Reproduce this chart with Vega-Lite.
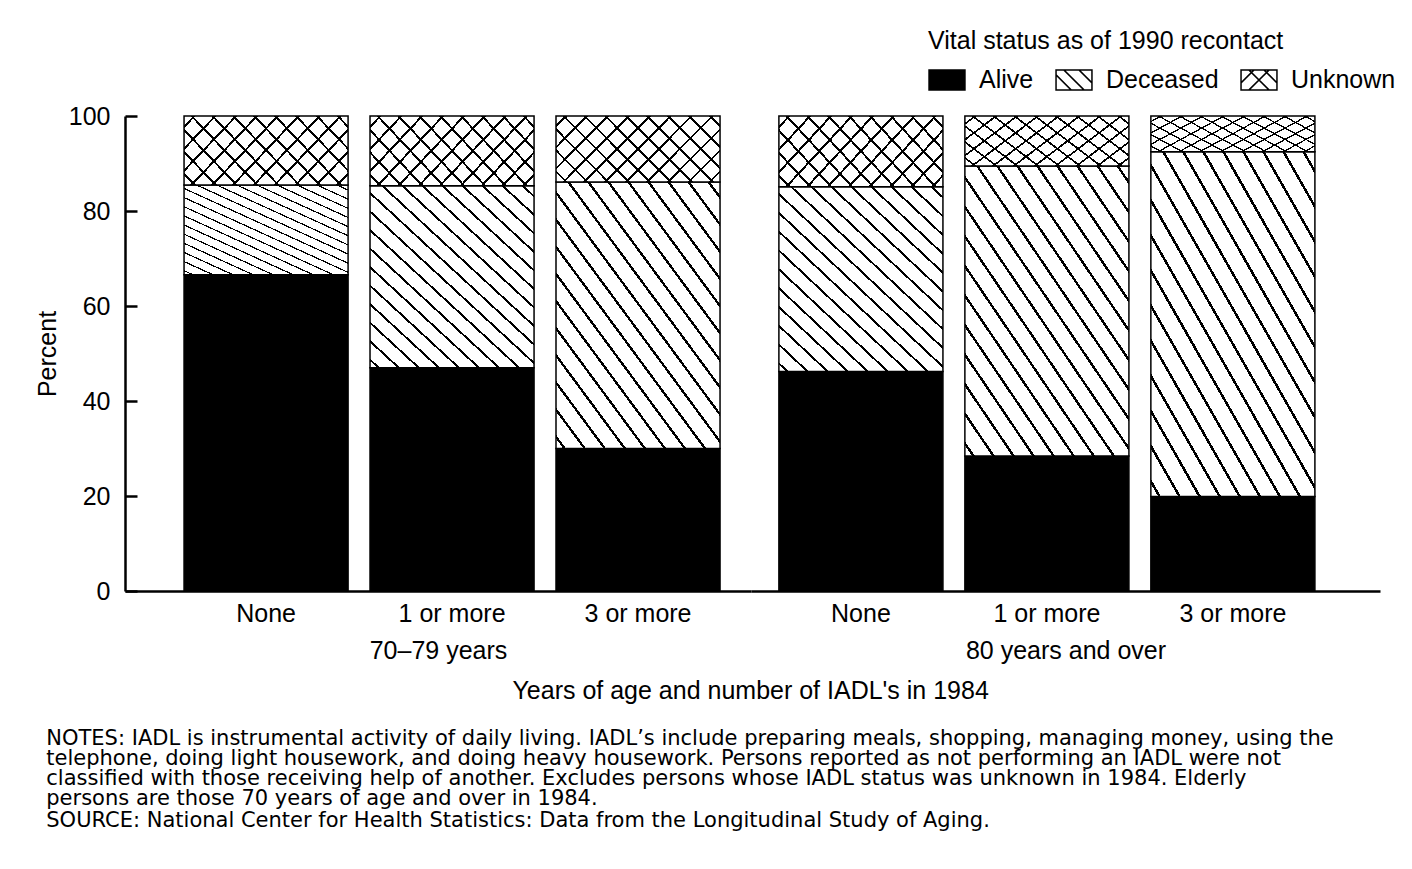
{
  "$schema": "https://vega.github.io/schema/vega-lite/v6.json",
  "background": "white",
  "padding": {"left": 35, "top": 29, "right": 5, "bottom": 5},
  "config": {
    "font": "Liberation Sans",
    "view": {"stroke": null},
    "axis": {"labelColor": "black", "titleColor": "black", "labelFont": "Liberation Sans", "titleFont": "Liberation Sans", "grid": false},
    "legend": {"labelColor": "black", "titleColor": "black", "labelFont": "Liberation Sans", "titleFont": "Liberation Sans"},
    "title": {"color": "black", "subtitleColor": "black", "font": "Liberation Sans", "subtitleFont": "Liberation Sans"}
  },
  "data": {"values": [
    {"age": "70–79 years", "iadl": "None", "status": "Alive", "value": 66.6},
    {"age": "70–79 years", "iadl": "None", "status": "Deceased", "value": 18.9},
    {"age": "70–79 years", "iadl": "None", "status": "Unknown", "value": 14.5},
    {"age": "70–79 years", "iadl": "1 or more", "status": "Alive", "value": 47.0},
    {"age": "70–79 years", "iadl": "1 or more", "status": "Deceased", "value": 38.3},
    {"age": "70–79 years", "iadl": "1 or more", "status": "Unknown", "value": 14.7},
    {"age": "70–79 years", "iadl": "3 or more", "status": "Alive", "value": 30.0},
    {"age": "70–79 years", "iadl": "3 or more", "status": "Deceased", "value": 56.1},
    {"age": "70–79 years", "iadl": "3 or more", "status": "Unknown", "value": 13.9},
    {"age": "80 years and over", "iadl": "None", "status": "Alive", "value": 46.2},
    {"age": "80 years and over", "iadl": "None", "status": "Deceased", "value": 38.9},
    {"age": "80 years and over", "iadl": "None", "status": "Unknown", "value": 14.9},
    {"age": "80 years and over", "iadl": "1 or more", "status": "Alive", "value": 28.4},
    {"age": "80 years and over", "iadl": "1 or more", "status": "Deceased", "value": 61.1},
    {"age": "80 years and over", "iadl": "1 or more", "status": "Unknown", "value": 10.5},
    {"age": "80 years and over", "iadl": "3 or more", "status": "Alive", "value": 19.9},
    {"age": "80 years and over", "iadl": "3 or more", "status": "Deceased", "value": 72.6},
    {"age": "80 years and over", "iadl": "3 or more", "status": "Unknown", "value": 7.5}
  ]},
  "title": {
    "text": [
      "NOTES: IADL is instrumental activity of daily living. IADL’s include preparing meals, shopping, managing money, using the",
      "telephone, doing light housework, and doing heavy housework. Persons reported as not performing an IADL were not",
      "classified with those receiving help of another. Excludes persons whose IADL status was unknown in 1984. Elderly",
      "persons are those 70 years of age and over in 1984."
    ],
    "subtitle": "SOURCE: National Center for Health Statistics: Data from the Longitudinal Study of Aging.",
    "orient": "bottom", "anchor": "start", "frame": "bounds",
    "font": "DejaVu Sans", "subtitleFont": "DejaVu Sans",
    "fontSize": 21, "fontWeight": "normal", "lineHeight": 20,
    "subtitleFontSize": 21, "subtitlePadding": 1,
    "offset": 24, "dx": 11
  },
  "vconcat": [{
    "title": {"text": "Years of age and number of IADL's in 1984", "orient": "bottom", "anchor": "middle", "frame": "bounds", "dx": 43, "fontSize": 25, "fontWeight": "normal", "offset": 16},
    "spacing": 0,
    "resolve": {"scale": {"x": "independent", "y": "independent"}},
    "hconcat": [
      {
        "width": 626, "height": 475,
        "transform": [
          {"filter": "datum.age === '70–79 years'"},
          {"stack": "value", "groupby": ["iadl"], "sort": [{"field": "status", "order": "ascending"}], "as": ["v0", "v1"]}
        ],
        "layer": [
          {
            "mark": {"type": "bar", "strokeWidth": 1.5, "stroke": "black"},
            "encoding": {
              "x": {"field": "iadl", "type": "nominal", "sort": ["None", "1 or more", "3 or more"],
                    "scale": {"paddingInner": 0.118, "paddingOuter": 0.242, "align": 0.656},
                    "axis": {"title": "70–79 years", "ticks": false, "labelAngle": 0, "labelFontSize": 25, "labelPadding": 10, "titleFontSize": 25, "titleFontWeight": "normal", "titlePadding": 12, "domainColor": "black", "domainWidth": 2.5}},
              "y": {"field": "v0", "type": "quantitative", "scale": {"domain": [0, 100], "nice": false},
                    "axis": {"title": "Percent", "values": [0, 20, 40, 60, 80, 100], "labelFontSize": 25, "labelPadding": 27, "tickSize": -12, "tickWidth": 2.5, "tickColor": "black", "domainColor": "black", "domainWidth": 2.5, "titleFontSize": 25, "titleFontWeight": "normal", "titlePadding": 8}},
              "y2": {"field": "v1"},
              "fill": {
                "condition": [
                  {"test": "datum.status === 'Alive'", "value": "black"},
                  {"test": "datum.status === 'Deceased'", "value": {"gradient": "linear", "x1": 0, "y1": 1, "x2": 0.9016, "y2": -0.082, "stops": [
                    {"offset": 0, "color": "white"},
                    {"offset": 0.02, "color": "white"}, {"offset": 0.02, "color": "black"}, {"offset": 0.028, "color": "black"}, {"offset": 0.028, "color": "white"},
                    {"offset": 0.0756, "color": "white"}, {"offset": 0.0756, "color": "black"}, {"offset": 0.0836, "color": "black"}, {"offset": 0.0836, "color": "white"},
                    {"offset": 0.1311, "color": "white"}, {"offset": 0.1311, "color": "black"}, {"offset": 0.1391, "color": "black"}, {"offset": 0.1391, "color": "white"},
                    {"offset": 0.1867, "color": "white"}, {"offset": 0.1867, "color": "black"}, {"offset": 0.1947, "color": "black"}, {"offset": 0.1947, "color": "white"},
                    {"offset": 0.2422, "color": "white"}, {"offset": 0.2422, "color": "black"}, {"offset": 0.2502, "color": "black"}, {"offset": 0.2502, "color": "white"},
                    {"offset": 0.2978, "color": "white"}, {"offset": 0.2978, "color": "black"}, {"offset": 0.3058, "color": "black"}, {"offset": 0.3058, "color": "white"},
                    {"offset": 0.3533, "color": "white"}, {"offset": 0.3533, "color": "black"}, {"offset": 0.3613, "color": "black"}, {"offset": 0.3613, "color": "white"},
                    {"offset": 0.4089, "color": "white"}, {"offset": 0.4089, "color": "black"}, {"offset": 0.4169, "color": "black"}, {"offset": 0.4169, "color": "white"},
                    {"offset": 0.4644, "color": "white"}, {"offset": 0.4644, "color": "black"}, {"offset": 0.4724, "color": "black"}, {"offset": 0.4724, "color": "white"},
                    {"offset": 0.52, "color": "white"}, {"offset": 0.52, "color": "black"}, {"offset": 0.528, "color": "black"}, {"offset": 0.528, "color": "white"},
                    {"offset": 0.5756, "color": "white"}, {"offset": 0.5756, "color": "black"}, {"offset": 0.5836, "color": "black"}, {"offset": 0.5836, "color": "white"},
                    {"offset": 0.6311, "color": "white"}, {"offset": 0.6311, "color": "black"}, {"offset": 0.6391, "color": "black"}, {"offset": 0.6391, "color": "white"},
                    {"offset": 0.6867, "color": "white"}, {"offset": 0.6867, "color": "black"}, {"offset": 0.6947, "color": "black"}, {"offset": 0.6947, "color": "white"},
                    {"offset": 0.7422, "color": "white"}, {"offset": 0.7422, "color": "black"}, {"offset": 0.7502, "color": "black"}, {"offset": 0.7502, "color": "white"},
                    {"offset": 0.7978, "color": "white"}, {"offset": 0.7978, "color": "black"}, {"offset": 0.8058, "color": "black"}, {"offset": 0.8058, "color": "white"},
                    {"offset": 0.8533, "color": "white"}, {"offset": 0.8533, "color": "black"}, {"offset": 0.8613, "color": "black"}, {"offset": 0.8613, "color": "white"},
                    {"offset": 0.9089, "color": "white"}, {"offset": 0.9089, "color": "black"}, {"offset": 0.9169, "color": "black"}, {"offset": 0.9169, "color": "white"},
                    {"offset": 0.9644, "color": "white"}, {"offset": 0.9644, "color": "black"}, {"offset": 0.9724, "color": "black"}, {"offset": 0.9724, "color": "white"},
                    {"offset": 1, "color": "white"}
                  ]}}
                ],
                "value": {"gradient": "linear", "x1": 0, "y1": 1, "x2": 1.207, "y2": 0.517, "stops": [
                  {"offset": 0, "color": "white"},
                  {"offset": 0.04, "color": "white"}, {"offset": 0.04, "color": "black"}, {"offset": 0.052, "color": "black"}, {"offset": 0.052, "color": "white"},
                  {"offset": 0.131, "color": "white"}, {"offset": 0.131, "color": "black"}, {"offset": 0.143, "color": "black"}, {"offset": 0.143, "color": "white"},
                  {"offset": 0.222, "color": "white"}, {"offset": 0.222, "color": "black"}, {"offset": 0.234, "color": "black"}, {"offset": 0.234, "color": "white"},
                  {"offset": 0.313, "color": "white"}, {"offset": 0.313, "color": "black"}, {"offset": 0.325, "color": "black"}, {"offset": 0.325, "color": "white"},
                  {"offset": 0.404, "color": "white"}, {"offset": 0.404, "color": "black"}, {"offset": 0.416, "color": "black"}, {"offset": 0.416, "color": "white"},
                  {"offset": 0.495, "color": "white"}, {"offset": 0.495, "color": "black"}, {"offset": 0.507, "color": "black"}, {"offset": 0.507, "color": "white"},
                  {"offset": 0.585, "color": "white"}, {"offset": 0.585, "color": "black"}, {"offset": 0.597, "color": "black"}, {"offset": 0.597, "color": "white"},
                  {"offset": 0.676, "color": "white"}, {"offset": 0.676, "color": "black"}, {"offset": 0.688, "color": "black"}, {"offset": 0.688, "color": "white"},
                  {"offset": 0.767, "color": "white"}, {"offset": 0.767, "color": "black"}, {"offset": 0.779, "color": "black"}, {"offset": 0.779, "color": "white"},
                  {"offset": 0.858, "color": "white"}, {"offset": 0.858, "color": "black"}, {"offset": 0.870, "color": "black"}, {"offset": 0.870, "color": "white"},
                  {"offset": 0.949, "color": "white"}, {"offset": 0.949, "color": "black"}, {"offset": 0.961, "color": "black"}, {"offset": 0.961, "color": "white"},
                  {"offset": 1, "color": "white"}
                ]}
              }
            }
          },
          {
            "transform": [{"filter": "datum.status === 'Unknown'"}],
            "mark": {"type": "bar", "strokeWidth": 0},
            "encoding": {
              "x": {"field": "iadl", "type": "nominal", "sort": ["None", "1 or more", "3 or more"]},
              "y": {"field": "v0", "type": "quantitative"},
              "y2": {"field": "v1"},
              "fill": {"value": {"gradient": "linear", "x1": 1, "y1": 1, "x2": -0.207, "y2": 0.517, "stops": [
                  {"offset": 0, "color": "rgba(0,0,0,0)"},
                  {"offset": 0.04, "color": "rgba(0,0,0,0)"}, {"offset": 0.04, "color": "black"}, {"offset": 0.052, "color": "black"}, {"offset": 0.052, "color": "rgba(0,0,0,0)"},
                  {"offset": 0.131, "color": "rgba(0,0,0,0)"}, {"offset": 0.131, "color": "black"}, {"offset": 0.143, "color": "black"}, {"offset": 0.143, "color": "rgba(0,0,0,0)"},
                  {"offset": 0.222, "color": "rgba(0,0,0,0)"}, {"offset": 0.222, "color": "black"}, {"offset": 0.234, "color": "black"}, {"offset": 0.234, "color": "rgba(0,0,0,0)"},
                  {"offset": 0.313, "color": "rgba(0,0,0,0)"}, {"offset": 0.313, "color": "black"}, {"offset": 0.325, "color": "black"}, {"offset": 0.325, "color": "rgba(0,0,0,0)"},
                  {"offset": 0.404, "color": "rgba(0,0,0,0)"}, {"offset": 0.404, "color": "black"}, {"offset": 0.416, "color": "black"}, {"offset": 0.416, "color": "rgba(0,0,0,0)"},
                  {"offset": 0.495, "color": "rgba(0,0,0,0)"}, {"offset": 0.495, "color": "black"}, {"offset": 0.507, "color": "black"}, {"offset": 0.507, "color": "rgba(0,0,0,0)"},
                  {"offset": 0.585, "color": "rgba(0,0,0,0)"}, {"offset": 0.585, "color": "black"}, {"offset": 0.597, "color": "black"}, {"offset": 0.597, "color": "rgba(0,0,0,0)"},
                  {"offset": 0.676, "color": "rgba(0,0,0,0)"}, {"offset": 0.676, "color": "black"}, {"offset": 0.688, "color": "black"}, {"offset": 0.688, "color": "rgba(0,0,0,0)"},
                  {"offset": 0.767, "color": "rgba(0,0,0,0)"}, {"offset": 0.767, "color": "black"}, {"offset": 0.779, "color": "black"}, {"offset": 0.779, "color": "rgba(0,0,0,0)"},
                  {"offset": 0.858, "color": "rgba(0,0,0,0)"}, {"offset": 0.858, "color": "black"}, {"offset": 0.870, "color": "black"}, {"offset": 0.870, "color": "rgba(0,0,0,0)"},
                  {"offset": 0.949, "color": "rgba(0,0,0,0)"}, {"offset": 0.949, "color": "black"}, {"offset": 0.961, "color": "black"}, {"offset": 0.961, "color": "rgba(0,0,0,0)"},
                  {"offset": 1, "color": "rgba(0,0,0,0)"}
                ]}}
            }
          },
          {
            "mark": {"type": "point", "filled": true, "opacity": 0},
            "encoding": {
              "x": {"field": "iadl", "type": "nominal", "sort": ["None", "1 or more", "3 or more"]},
              "y": {"field": "v1", "type": "quantitative"},
              "fill": {"field": "status", "type": "nominal",
                "scale": {"domain": ["Alive", "Deceased", "Unknown"], "range": ["black", "black", "black"]},
                "legend": {
                  "title": "Vital status as of 1990 recontact", "titleLimit": 600, "labelLimit": 300,
                  "orient": "none", "legendX": 803, "legendY": -87, "direction": "horizontal", "padding": 0,
                  "titleFontSize": 25, "titleFontWeight": "normal", "titlePadding": 7,
                  "labelFontSize": 25, "labelOffset": 13, "columnPadding": 21,
                  "symbolSize": 1400, "symbolOpacity": 1, "symbolStrokeWidth": 0
                }},
              "shape": {"field": "status", "type": "nominal",
                "scale": {"domain": ["Alive", "Deceased", "Unknown"], "range": [
                  "M-1,-0.57H1V0.57H-1Z",
                  "M-1,-0.57H1V0.57H-1Z M-0.92,-0.5V0.5H0.92V-0.5Z M-0.92,-0.29L-0.13,0.5L-0.25,0.5L-0.92,-0.17Z M-0.56,-0.5L-0.44,-0.5L0.56,0.5L0.44,0.5Z M0.25,-0.5L0.37,-0.5L0.92,0.05L0.92,0.17Z",
                  "M-1,-0.57H1V0.57H-1Z M-0.92,-0.5V0.5H0.92V-0.5Z M-0.56,-0.5L-0.44,-0.5L0.56,0.5L0.44,0.5Z M0.44,-0.5L0.56,-0.5L-0.44,0.5L-0.56,0.5Z M0.25,-0.5L0.37,-0.5L0.92,0.05L0.92,0.17Z M-0.92,0.17L-0.92,0.05L-0.37,-0.5L-0.25,-0.5Z"
                ]},
                "legend": {
                  "title": "Vital status as of 1990 recontact", "titleLimit": 600, "labelLimit": 300,
                  "orient": "none", "legendX": 803, "legendY": -87, "direction": "horizontal", "padding": 0,
                  "titleFontSize": 25, "titleFontWeight": "normal", "titlePadding": 7,
                  "labelFontSize": 25, "labelOffset": 13, "columnPadding": 21,
                  "symbolSize": 1400, "symbolOpacity": 1, "symbolStrokeWidth": 0
                }}
            }
          }
        ]
      },
      {
        "width": 629, "height": 475,
        "transform": [
          {"filter": "datum.age === '80 years and over'"},
          {"stack": "value", "groupby": ["iadl"], "sort": [{"field": "status", "order": "ascending"}], "as": ["v0", "v1"]}
        ],
        "layer": [
          {
            "mark": {"type": "bar", "strokeWidth": 1.5, "stroke": "black"},
            "encoding": {
              "x": {"field": "iadl", "type": "nominal", "sort": ["None", "1 or more", "3 or more"],
                    "scale": {"paddingInner": 0.118, "paddingOuter": 0.25, "align": 0.3},
                    "axis": {"title": "80 years and over", "ticks": false, "labelAngle": 0, "labelFontSize": 25, "labelPadding": 10, "titleFontSize": 25, "titleFontWeight": "normal", "titlePadding": 12, "domainColor": "black", "domainWidth": 2.5}},
              "y": {"field": "v0", "type": "quantitative", "scale": {"domain": [0, 100], "nice": false}, "axis": null},
              "y2": {"field": "v1"},
              "fill": {
                "condition": [
                  {"test": "datum.status === 'Alive'", "value": "black"},
                  {"test": "datum.status === 'Deceased'", "value": {"gradient": "linear", "x1": 0, "y1": 1, "x2": 0.9016, "y2": -0.082, "stops": [
                    {"offset": 0, "color": "white"},
                    {"offset": 0.02, "color": "white"}, {"offset": 0.02, "color": "black"}, {"offset": 0.028, "color": "black"}, {"offset": 0.028, "color": "white"},
                    {"offset": 0.0756, "color": "white"}, {"offset": 0.0756, "color": "black"}, {"offset": 0.0836, "color": "black"}, {"offset": 0.0836, "color": "white"},
                    {"offset": 0.1311, "color": "white"}, {"offset": 0.1311, "color": "black"}, {"offset": 0.1391, "color": "black"}, {"offset": 0.1391, "color": "white"},
                    {"offset": 0.1867, "color": "white"}, {"offset": 0.1867, "color": "black"}, {"offset": 0.1947, "color": "black"}, {"offset": 0.1947, "color": "white"},
                    {"offset": 0.2422, "color": "white"}, {"offset": 0.2422, "color": "black"}, {"offset": 0.2502, "color": "black"}, {"offset": 0.2502, "color": "white"},
                    {"offset": 0.2978, "color": "white"}, {"offset": 0.2978, "color": "black"}, {"offset": 0.3058, "color": "black"}, {"offset": 0.3058, "color": "white"},
                    {"offset": 0.3533, "color": "white"}, {"offset": 0.3533, "color": "black"}, {"offset": 0.3613, "color": "black"}, {"offset": 0.3613, "color": "white"},
                    {"offset": 0.4089, "color": "white"}, {"offset": 0.4089, "color": "black"}, {"offset": 0.4169, "color": "black"}, {"offset": 0.4169, "color": "white"},
                    {"offset": 0.4644, "color": "white"}, {"offset": 0.4644, "color": "black"}, {"offset": 0.4724, "color": "black"}, {"offset": 0.4724, "color": "white"},
                    {"offset": 0.52, "color": "white"}, {"offset": 0.52, "color": "black"}, {"offset": 0.528, "color": "black"}, {"offset": 0.528, "color": "white"},
                    {"offset": 0.5756, "color": "white"}, {"offset": 0.5756, "color": "black"}, {"offset": 0.5836, "color": "black"}, {"offset": 0.5836, "color": "white"},
                    {"offset": 0.6311, "color": "white"}, {"offset": 0.6311, "color": "black"}, {"offset": 0.6391, "color": "black"}, {"offset": 0.6391, "color": "white"},
                    {"offset": 0.6867, "color": "white"}, {"offset": 0.6867, "color": "black"}, {"offset": 0.6947, "color": "black"}, {"offset": 0.6947, "color": "white"},
                    {"offset": 0.7422, "color": "white"}, {"offset": 0.7422, "color": "black"}, {"offset": 0.7502, "color": "black"}, {"offset": 0.7502, "color": "white"},
                    {"offset": 0.7978, "color": "white"}, {"offset": 0.7978, "color": "black"}, {"offset": 0.8058, "color": "black"}, {"offset": 0.8058, "color": "white"},
                    {"offset": 0.8533, "color": "white"}, {"offset": 0.8533, "color": "black"}, {"offset": 0.8613, "color": "black"}, {"offset": 0.8613, "color": "white"},
                    {"offset": 0.9089, "color": "white"}, {"offset": 0.9089, "color": "black"}, {"offset": 0.9169, "color": "black"}, {"offset": 0.9169, "color": "white"},
                    {"offset": 0.9644, "color": "white"}, {"offset": 0.9644, "color": "black"}, {"offset": 0.9724, "color": "black"}, {"offset": 0.9724, "color": "white"},
                    {"offset": 1, "color": "white"}
                  ]}}
                ],
                "value": {"gradient": "linear", "x1": 0, "y1": 1, "x2": 1.207, "y2": 0.517, "stops": [
                  {"offset": 0, "color": "white"},
                  {"offset": 0.04, "color": "white"}, {"offset": 0.04, "color": "black"}, {"offset": 0.052, "color": "black"}, {"offset": 0.052, "color": "white"},
                  {"offset": 0.131, "color": "white"}, {"offset": 0.131, "color": "black"}, {"offset": 0.143, "color": "black"}, {"offset": 0.143, "color": "white"},
                  {"offset": 0.222, "color": "white"}, {"offset": 0.222, "color": "black"}, {"offset": 0.234, "color": "black"}, {"offset": 0.234, "color": "white"},
                  {"offset": 0.313, "color": "white"}, {"offset": 0.313, "color": "black"}, {"offset": 0.325, "color": "black"}, {"offset": 0.325, "color": "white"},
                  {"offset": 0.404, "color": "white"}, {"offset": 0.404, "color": "black"}, {"offset": 0.416, "color": "black"}, {"offset": 0.416, "color": "white"},
                  {"offset": 0.495, "color": "white"}, {"offset": 0.495, "color": "black"}, {"offset": 0.507, "color": "black"}, {"offset": 0.507, "color": "white"},
                  {"offset": 0.585, "color": "white"}, {"offset": 0.585, "color": "black"}, {"offset": 0.597, "color": "black"}, {"offset": 0.597, "color": "white"},
                  {"offset": 0.676, "color": "white"}, {"offset": 0.676, "color": "black"}, {"offset": 0.688, "color": "black"}, {"offset": 0.688, "color": "white"},
                  {"offset": 0.767, "color": "white"}, {"offset": 0.767, "color": "black"}, {"offset": 0.779, "color": "black"}, {"offset": 0.779, "color": "white"},
                  {"offset": 0.858, "color": "white"}, {"offset": 0.858, "color": "black"}, {"offset": 0.870, "color": "black"}, {"offset": 0.870, "color": "white"},
                  {"offset": 0.949, "color": "white"}, {"offset": 0.949, "color": "black"}, {"offset": 0.961, "color": "black"}, {"offset": 0.961, "color": "white"},
                  {"offset": 1, "color": "white"}
                ]}
              }
            }
          },
          {
            "transform": [{"filter": "datum.status === 'Unknown'"}],
            "mark": {"type": "bar", "strokeWidth": 0},
            "encoding": {
              "x": {"field": "iadl", "type": "nominal", "sort": ["None", "1 or more", "3 or more"]},
              "y": {"field": "v0", "type": "quantitative"},
              "y2": {"field": "v1"},
              "fill": {"value": {"gradient": "linear", "x1": 1, "y1": 1, "x2": -0.207, "y2": 0.517, "stops": [
                  {"offset": 0, "color": "rgba(0,0,0,0)"},
                  {"offset": 0.04, "color": "rgba(0,0,0,0)"}, {"offset": 0.04, "color": "black"}, {"offset": 0.052, "color": "black"}, {"offset": 0.052, "color": "rgba(0,0,0,0)"},
                  {"offset": 0.131, "color": "rgba(0,0,0,0)"}, {"offset": 0.131, "color": "black"}, {"offset": 0.143, "color": "black"}, {"offset": 0.143, "color": "rgba(0,0,0,0)"},
                  {"offset": 0.222, "color": "rgba(0,0,0,0)"}, {"offset": 0.222, "color": "black"}, {"offset": 0.234, "color": "black"}, {"offset": 0.234, "color": "rgba(0,0,0,0)"},
                  {"offset": 0.313, "color": "rgba(0,0,0,0)"}, {"offset": 0.313, "color": "black"}, {"offset": 0.325, "color": "black"}, {"offset": 0.325, "color": "rgba(0,0,0,0)"},
                  {"offset": 0.404, "color": "rgba(0,0,0,0)"}, {"offset": 0.404, "color": "black"}, {"offset": 0.416, "color": "black"}, {"offset": 0.416, "color": "rgba(0,0,0,0)"},
                  {"offset": 0.495, "color": "rgba(0,0,0,0)"}, {"offset": 0.495, "color": "black"}, {"offset": 0.507, "color": "black"}, {"offset": 0.507, "color": "rgba(0,0,0,0)"},
                  {"offset": 0.585, "color": "rgba(0,0,0,0)"}, {"offset": 0.585, "color": "black"}, {"offset": 0.597, "color": "black"}, {"offset": 0.597, "color": "rgba(0,0,0,0)"},
                  {"offset": 0.676, "color": "rgba(0,0,0,0)"}, {"offset": 0.676, "color": "black"}, {"offset": 0.688, "color": "black"}, {"offset": 0.688, "color": "rgba(0,0,0,0)"},
                  {"offset": 0.767, "color": "rgba(0,0,0,0)"}, {"offset": 0.767, "color": "black"}, {"offset": 0.779, "color": "black"}, {"offset": 0.779, "color": "rgba(0,0,0,0)"},
                  {"offset": 0.858, "color": "rgba(0,0,0,0)"}, {"offset": 0.858, "color": "black"}, {"offset": 0.870, "color": "black"}, {"offset": 0.870, "color": "rgba(0,0,0,0)"},
                  {"offset": 0.949, "color": "rgba(0,0,0,0)"}, {"offset": 0.949, "color": "black"}, {"offset": 0.961, "color": "black"}, {"offset": 0.961, "color": "rgba(0,0,0,0)"},
                  {"offset": 1, "color": "rgba(0,0,0,0)"}
                ]}}
            }
          }
        ]
      }
    ]
  }]
}
